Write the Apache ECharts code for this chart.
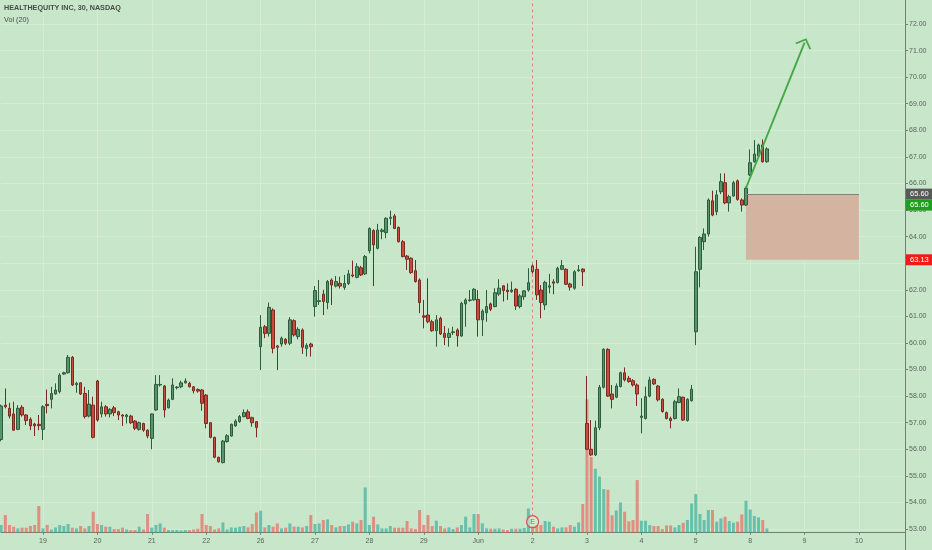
<!DOCTYPE html>
<html><head><meta charset="utf-8">
<script src="https://cdn.jsdelivr.net/npm/echarts@6/dist/echarts.min.js"></script>
<style>html,body{margin:0;padding:0;background:#c8e6c9;}#c{width:932px;height:550px;}</style>
</head><body><div id="c"></div>
<script>
// ---- 30-minute candles per day: [open, close, low, high] ----
const may18 = [[56.37,57.63,56.30,57.68],[57.66,57.60,57.54,58.29],[57.54,57.25,57.16,57.75],[57.33,56.72,56.70,57.79],[56.75,57.54,56.72,57.66],[57.58,57.29,57.23,57.66],[57.29,57.08,56.91,57.32],[57.13,56.88,56.72,57.20],[56.95,56.88,56.50,57.00],[56.94,56.89,56.72,57.29]];
const may19 = [[56.75,57.60,56.35,57.66],[57.69,57.64,57.35,58.25],[57.88,58.10,57.54,58.35],[58.08,58.23,58.05,58.48],[58.17,58.79,58.10,58.86],[58.83,58.88,58.80,58.92],[58.88,59.46,58.85,59.55],[59.46,58.42,58.38,59.51],[58.43,58.48,58.13,58.54],[58.50,58.08,58.04,58.52],[58.10,57.23,57.16,58.35],[57.25,57.70,57.20,58.23],[57.66,56.45,56.41,57.98]];
const may20 = [[58.57,57.10,57.04,58.61],[57.33,57.60,57.20,57.79],[57.60,57.33,57.23,57.66],[57.33,57.50,57.20,57.55],[57.56,57.38,57.25,57.63],[57.41,57.29,57.10,57.45],[57.29,57.25,56.88,57.32],[57.23,57.29,56.97,57.33],[57.25,57.00,56.95,57.30],[57.06,56.79,56.72,57.10],[56.75,57.00,56.70,57.04],[56.97,56.72,56.66,57.00],[56.72,56.50,56.41,56.75]];
const may21 = [[56.41,57.33,56.00,57.35],[57.48,58.44,57.45,58.79],[58.42,58.44,58.36,58.79],[58.38,57.48,57.20,58.42],[57.56,57.85,57.54,57.91],[57.88,58.42,57.85,58.67],[58.32,58.34,58.25,58.38],[58.35,58.50,58.30,58.58],[58.50,58.57,58.47,58.67],[58.48,58.35,58.33,58.54],[58.35,58.20,58.10,58.38],[58.25,58.19,58.13,58.29],[58.23,57.73,57.45,58.27]];
const may22 = [[58.04,56.97,56.79,58.08],[57.00,56.45,56.41,57.02],[56.45,55.70,55.66,56.47],[55.70,55.53,55.50,55.72],[55.50,56.31,55.47,56.35],[56.29,56.51,56.25,56.57],[56.50,56.94,56.48,56.97],[56.88,57.06,56.85,57.13],[57.04,57.23,57.00,57.29],[57.23,57.38,57.20,57.50],[57.41,57.16,57.13,57.50],[57.19,57.00,56.85,57.23],[57.04,56.82,56.45,57.06]];
const may26 = [[59.86,60.59,58.98,61.05],[60.61,60.36,60.18,60.68],[60.36,61.34,60.24,61.52],[61.24,59.80,59.61,61.30],[59.89,59.84,58.98,59.92],[59.96,60.18,59.86,60.24],[60.14,59.99,59.92,60.18],[59.99,60.87,59.92,60.97],[60.84,60.30,60.24,60.89],[60.24,60.51,60.14,60.59],[60.49,59.84,59.59,60.55],[59.79,59.91,59.49,59.99],[59.96,59.86,59.49,60.01]];
const may27 = [[61.37,61.97,60.99,62.14],[61.56,61.59,61.43,62.37],[61.84,61.56,61.05,62.00],[61.52,62.31,61.27,62.37],[62.37,62.18,61.43,62.43],[62.14,62.31,62.09,62.52],[62.24,62.14,62.05,62.49],[62.09,62.24,62.00,62.56],[62.24,62.60,62.18,62.75],[62.56,62.52,62.47,63.10],[62.47,62.87,62.43,63.00],[62.83,62.56,62.52,62.90],[62.60,63.25,62.56,63.31]];
const may28 = [[63.47,64.31,63.37,64.35],[64.23,63.69,62.14,64.28],[63.56,64.25,63.52,64.48],[64.19,64.25,63.90,64.31],[64.15,64.69,63.94,64.73],[64.69,64.73,64.44,64.98],[64.78,64.31,64.28,64.85],[64.35,63.81,63.78,64.38],[63.81,63.25,63.22,63.87],[63.27,63.15,62.75,63.31],[63.19,62.65,62.60,63.22],[62.72,62.31,62.27,63.12],[62.37,61.52,61.12,62.43]];
const may29 = [[61.02,60.97,60.55,61.62],[61.05,60.80,60.74,62.43],[60.80,60.46,60.42,60.87],[60.46,60.87,59.86,61.05],[60.93,60.34,60.30,60.99],[60.36,60.21,59.92,60.64],[60.21,60.36,59.86,60.55],[60.39,60.42,60.30,60.61],[60.49,60.27,59.86,60.55],[60.26,61.49,60.24,61.55],[61.47,61.62,60.61,61.68],[61.60,61.62,61.55,61.99],[61.62,62.02,61.59,62.06]];
const jun1 = [[61.64,60.87,60.24,61.99],[60.87,61.20,60.26,61.27],[61.14,61.37,60.80,61.99],[61.47,61.27,61.20,61.52],[61.37,61.89,61.34,62.06],[61.84,62.06,61.77,62.40],[62.15,61.97,61.56,62.18],[61.99,61.93,61.62,62.24],[61.93,61.99,61.89,62.31],[62.02,61.39,61.24,62.06],[61.37,61.77,61.30,61.84],[61.74,61.96,61.62,61.99],[61.99,62.27,61.93,62.81]];
const jun2 = [[62.90,62.68,62.50,62.97],[62.77,61.81,61.62,63.12],[61.99,61.52,60.93,62.18],[61.43,62.28,61.24,62.34],[62.10,62.15,61.87,62.60],[62.30,62.25,61.83,62.40],[62.27,62.81,62.24,62.87],[62.77,62.91,62.74,63.12],[62.77,62.21,62.18,62.81],[62.22,62.10,61.97,62.27],[62.06,62.68,62.00,62.74],[62.72,62.75,62.68,62.93],[62.78,62.68,62.14,62.81]];
const jun3 = [[56.97,56.00,55.97,58.76],[56.00,55.79,55.75,57.10],[55.79,56.81,55.75,57.08],[56.81,58.33,56.72,58.42],[58.33,59.76,58.29,59.80],[59.76,58.00,57.97,59.80],[58.08,57.88,57.54,58.42],[57.96,58.38,57.92,58.48],[58.36,58.88,58.33,58.92],[58.88,58.61,58.55,59.08],[58.67,58.55,58.50,58.76],[58.58,58.42,58.36,58.64],[58.42,58.08,57.63,58.48]];
const jun4 = [[57.20,57.25,56.60,57.92],[57.16,57.98,57.12,58.36],[58.00,58.61,57.96,58.73],[58.63,58.46,58.42,58.67],[58.38,57.86,57.80,58.42],[57.88,57.42,57.38,57.92],[57.38,57.16,57.12,57.42],[57.16,57.08,56.79,57.23],[57.16,57.79,57.12,57.86],[57.76,57.98,57.73,58.29],[57.96,57.10,57.06,57.98],[57.08,57.88,57.04,57.92],[57.83,58.26,57.79,58.42]];
const jun5 = [[60.42,62.68,59.92,63.62],[62.77,63.97,62.09,64.02],[63.81,64.10,63.50,64.31],[64.10,65.38,64.00,65.44],[65.35,64.81,64.77,65.73],[64.94,65.57,64.81,65.75],[65.69,66.07,65.60,66.38],[66.03,65.27,65.22,66.38],[65.27,65.50,64.94,65.57],[65.53,66.03,65.50,66.10],[66.10,65.40,65.35,66.15],[65.38,65.19,64.94,65.44],[65.19,65.82,65.15,65.88]];
const jun8 = [[66.32,66.78,66.28,67.28],[66.82,67.11,66.78,67.63],[67.03,67.45,66.98,67.50],[67.45,66.82,66.78,67.66],[66.82,67.30,66.78,67.36]];

// ---- volume per bar (thousand shares) ----
const vol18 = [7.7,17.7,7.7,6,4.3,5,5,6.7,7.7,26.7];
const vol19 = [4.3,7.7,3.3,5.3,7.7,6.7,8.7,5,4.3,6.7,4.3,6.7,21];
const vol20 = [8.7,7.7,6,6,3.7,3.7,5,3.3,2.7,2.7,6,3.3,18.7];
const vol21 = [5,7.7,9.3,5,2.7,2.7,2.7,2.3,2.7,2.7,3.3,4,18.7];
const vol22 = [7.7,6.7,3.3,4.3,10.3,3.3,5.3,5,6,6.7,5.3,8.7,20.3];
const vol26 = [22,5.3,7.7,6,9.3,4.3,5,9.3,6,6,5.3,6.7,17.7];
const vol27 = [8.7,9.3,12.7,13.3,7.7,5.3,6.7,6.7,8.3,11,9.3,12.7,45.3];
const vol28 = [7.7,16,8.3,4.3,4.3,6.7,5,5,5,11.7,4.3,3.7,22.7];
const vol29 = [7.7,17.7,6.7,12,6.7,4.3,5.3,3.7,5.3,7.7,16,5.3,18.7];
const volJun1 = [18.7,9.3,4.3,4,4,4.3,3.3,2.7,4,4,4,4.7,24.3];
const volJun2 = [6.7,7.7,7.7,11.7,11,6,4.3,5.3,5.3,7.7,6,10.3,28.7];
const volJun3 = [133.7,75.7,64,56.3,43.7,43,17.3,22.3,30.3,21,11.3,12.7,52.7];
const volJun4 = [12,12,7.7,6.7,6.7,3.7,7.3,7.3,5.3,7.7,10,12.7,29.3];
const volJun5 = [38.7,18.7,12.7,22.7,22.7,11,14.3,16,11.7,10,11,18.3,32];
const volJun8 = [23.3,16.7,15.3,12.7,4.3];

// ---- sessions and tick labels ----
const dayNames = ['2020-05-18','2020-05-19','2020-05-20','2020-05-21','2020-05-22','2020-05-26','2020-05-27','2020-05-28','2020-05-29','2020-06-01','2020-06-02','2020-06-03','2020-06-04','2020-06-05','2020-06-08','2020-06-09','2020-06-10'];
const dayTickLabels = ['18','19','20','21','22','26','27','28','29','Jun','2','3','4','5','8','9','10'];
const priceLabels = [65.60, 65.60, 63.13];

// ---- drawing annotations (price / bar anchors) ----
const zoneTop = 65.60, zoneBottom = 63.13;
const zoneFrom = '2020-06-05 15:30', zoneTo = '2020-06-10 09:30';
const arrowFrom = ['2020-06-05 15:30', 65.83], arrowTo = ['2020-06-09 09:30', 71.30];
const earningsBar = '2020-06-02 09:30';

const categories = [];
const labelAt = {};
dayNames.forEach((d, di) => {
  const from = di === 0 ? 3 : 0;
  const to = di === dayNames.length - 1 ? 11 : 12;
  for (let b = from; b <= to; b++) {
    const m = 570 + 30 * b;
    const t = String(Math.floor(m / 60)).padStart(2, '0') + ':' + String(m % 60).padStart(2, '0');
    if (b === 0) labelAt[categories.length] = dayTickLabels[di];
    categories.push(d + ' ' + t);
  }
});
const candles = [].concat(may18, may19, may20, may21, may22, may26, may27, may28, may29, jun1, jun2, jun3, jun4, jun5, jun8);
const volumes = [].concat(vol18, vol19, vol20, vol21, vol22, vol26, vol27, vol28, vol29, volJun1, volJun2, volJun3, volJun4, volJun5, volJun8);
const volData = volumes.map((v, i) => ({
  value: v,
  itemStyle: { color: candles[i][1] >= candles[i][0] ? 'rgba(38,166,154,0.6)' : 'rgba(239,83,80,0.6)' }
}));
const isDayStart = (i) => labelAt[i] !== undefined;

const FONT = 'Liberation Sans';
const gridL = 1.14, gridR = 27;
const chart = echarts.init(document.getElementById('c'));
const chevron = 'path://M8.5,0 L17,8.1 L15.7,9.3 L8.5,2.5 L1.3,9.3 L0,8.1 Z';
const boxLabel = (bg, off) => ({
  show: true, position: 'end', distance: 1, offset: [0, off],
  formatter: p => Number(p.value).toFixed(2),
  backgroundColor: bg, color: '#ffffff', fontSize: 7.5, fontFamily: FONT,
  padding: [2, 4, 1, 4]
});
const hiddenLine = { color: 'rgba(0,0,0,0)', width: 1, type: 'solid' };

chart.setOption({
  animation: false,
  backgroundColor: '#c8e6c9',
  textStyle: { fontFamily: FONT },
  title: [
    { text: 'HEALTHEQUITY INC, 30, NASDAQ', left: 4, top: 5, padding: 0,
      textStyle: { fontSize: 7.2, fontWeight: 'bold', color: '#434f45', fontFamily: FONT } },
    { text: 'Vol (20)', left: 4, top: 17, padding: 0,
      textStyle: { fontSize: 7.2, fontWeight: 'normal', color: '#434f45', fontFamily: FONT } }
  ],
  grid: [
    { left: gridL, right: gridR, top: 0, bottom: 17.3, outerBoundsMode: 'none' },
    { left: gridL, right: gridR, top: -2.58, height: 558.2, outerBoundsMode: 'none' },
    { left: gridL, right: gridR, top: 383, bottom: 17.3, outerBoundsMode: 'none' }
  ],
  xAxis: [
    { gridIndex: 0, type: 'category', data: categories, boundaryGap: false,
      axisLine: { show: true, lineStyle: { color: '#71806f', width: 1 } },
      axisTick: { show: true, interval: isDayStart, length: 2, lineStyle: { color: '#71806f' } },
      axisLabel: { show: true, interval: isDayStart, formatter: (v, i) => labelAt[i] || '',
        fontSize: 7, color: '#56665a', margin: 5, fontFamily: FONT },
      splitLine: { show: true, interval: isDayStart, lineStyle: { color: '#d4ecd4', width: 1 } } },
    { gridIndex: 1, type: 'category', data: categories, boundaryGap: false, show: false },
    { gridIndex: 2, type: 'category', data: categories, boundaryGap: false, show: false }
  ],
  yAxis: [
    { gridIndex: 0, type: 'value', show: false, splitLine: { show: false } },
    { gridIndex: 1, type: 'value', position: 'right', min: 52, max: 73, interval: 1, scale: true,
      axisLine: { show: true, lineStyle: { color: '#71806f', width: 1 } },
      axisTick: { show: true, length: 3, lineStyle: { color: '#71806f' } },
      axisLabel: { show: true, formatter: v => v.toFixed(2), fontSize: 7, color: '#56665a',
        margin: 4, showMinLabel: false, showMaxLabel: false, fontFamily: FONT },
      splitLine: { show: true, lineStyle: { color: '#d4ecd4', width: 1 } } },
    { gridIndex: 2, type: 'value', show: false, min: 0, max: 150, splitLine: { show: false } }
  ],
  series: [
    { name: 'Vol', type: 'bar', xAxisIndex: 2, yAxisIndex: 2, data: volData, barWidth: 3,
      silent: true,
      markPoint: {
        silent: true, symbol: 'circle', symbolSize: 12,
        data: [{ coord: [earningsBar, 11],
          itemStyle: { color: 'rgba(220,236,215,0.55)', borderColor: '#d9534f', borderWidth: 1.2 },
          label: { show: true, formatter: 'E', color: '#d04a4a', fontSize: 7, fontFamily: FONT } }]
      } },
    { name: 'HQY', type: 'candlestick', xAxisIndex: 1, yAxisIndex: 1, data: candles, barWidth: 3,
      silent: true, clip: false,
      itemStyle: { color: '#55956b', color0: '#c94b3d', borderColor: '#2d5c3d', borderColor0: '#7a2b21', borderWidth: 1 },
      markArea: {
        silent: true,
        itemStyle: { color: '#d5b3a1' },
        data: [[{ coord: [zoneFrom, zoneTop] }, { coord: [zoneTo, zoneBottom] }]]
      },
      markLine: {
        silent: true, symbol: ['none', 'none'],
        data: [
          [{ coord: [earningsBar, 73], lineStyle: { color: '#e0847e', type: [3, 3], width: 1 }, label: { show: false } },
           { coord: [earningsBar, 53.53] }],
          [{ coord: [zoneFrom, zoneTop], lineStyle: { color: '#7d8580', type: 'solid', width: 1 }, label: { show: false } },
           { coord: [zoneTo, zoneTop] }],
          [{ coord: arrowFrom, symbol: 'none', lineStyle: { color: '#45a846', type: 'solid', width: 1.9 }, label: { show: false } },
           { coord: arrowTo, symbol: chevron, symbolSize: [17, 9.3] }],
          { yAxis: priceLabels[0], lineStyle: hiddenLine, label: boxLabel('#575b58', 0) },
          { yAxis: priceLabels[1], lineStyle: hiddenLine, label: boxLabel('#1f9e1f', 11) },
          { yAxis: priceLabels[2], lineStyle: hiddenLine, label: boxLabel('#f21b1b', 0) }
        ]
      } }
  ]
});
</script></body></html>
